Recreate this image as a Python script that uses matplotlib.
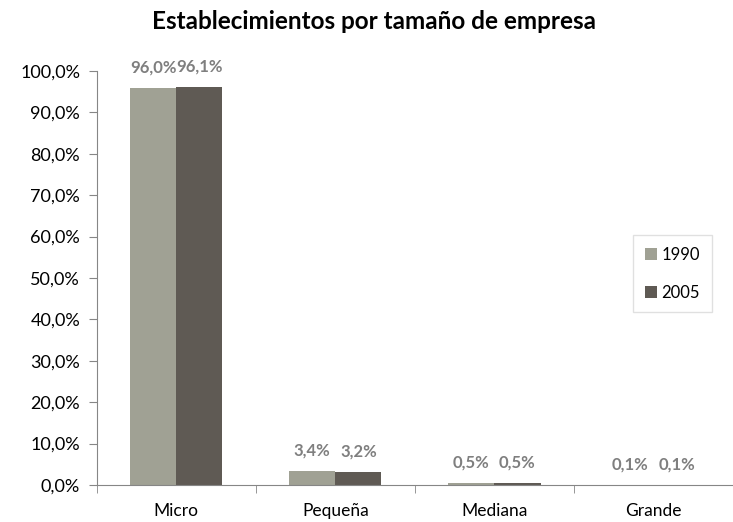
import numpy as np
import matplotlib.pyplot as plt

categorias = ['Micro', 'Pequeña', 'Mediana', 'Grande']
v1990 = [96.0, 3.4, 0.5, 0.1]
v2005 = [96.1, 3.2, 0.5, 0.1]
etiquetas_y = [f'{v:.1f}%'.replace('.', ',') for v in range(0, 101, 10)]

plt.rcParams['font.family'] = ['Lato', 'DejaVu Sans']

fig = plt.figure(figsize=(7.33, 5.22), dpi=100)
ax = fig.add_axes([0.132, 0.071, 0.868, 0.793])

x = np.arange(len(categorias))
w = 0.29
b1 = ax.bar(x - w / 2, v1990, w, color='#a0a194', label='1990')
b2 = ax.bar(x + w / 2, v2005, w, color='#5f5a54', label='2005')

for barras in (b1, b2):
    ax.bar_label(barras, labels=[f'{v:.1f}%'.replace('.', ',') for v in barras.datavalues],
                 padding=9, color='#7f7f7f', fontsize=12, fontweight='bold')

ax.set_ylim(0, 100)
ax.set_yticks(range(0, 101, 10))
ax.set_yticklabels(etiquetas_y)
ax.set_xlim(-0.5, len(categorias) - 0.5)
ax.set_xticks(x)
ax.set_xticklabels(categorias)
ax.set_xticks(np.arange(-0.5, len(categorias), 1), minor=True)
ax.tick_params(axis='x', which='major', length=0, pad=13, labelsize=12.5)
ax.tick_params(axis='x', which='minor', length=6, color='#868686', direction='out')
ax.tick_params(axis='y', length=6, color='#868686', labelsize=13, pad=6)

for s in ('top', 'right'):
    ax.spines[s].set_visible(False)
ax.spines['left'].set_color('#868686')
ax.spines['bottom'].set_color('#868686')

fig.suptitle('Establecimientos por tamaño de empresa', x=0.51, y=0.98,
             fontsize=17.5, fontweight='bold')

leg = ax.legend(loc='center left', bbox_to_anchor=(0.83, 0.51), frameon=True,
                fancybox=False, edgecolor='#d9d9d9', fontsize=12,
                handlelength=0.7, handleheight=0.7, labelspacing=1.3,
                handletextpad=0.3, borderpad=0.7)

fig.savefig('out.png', dpi=100)
